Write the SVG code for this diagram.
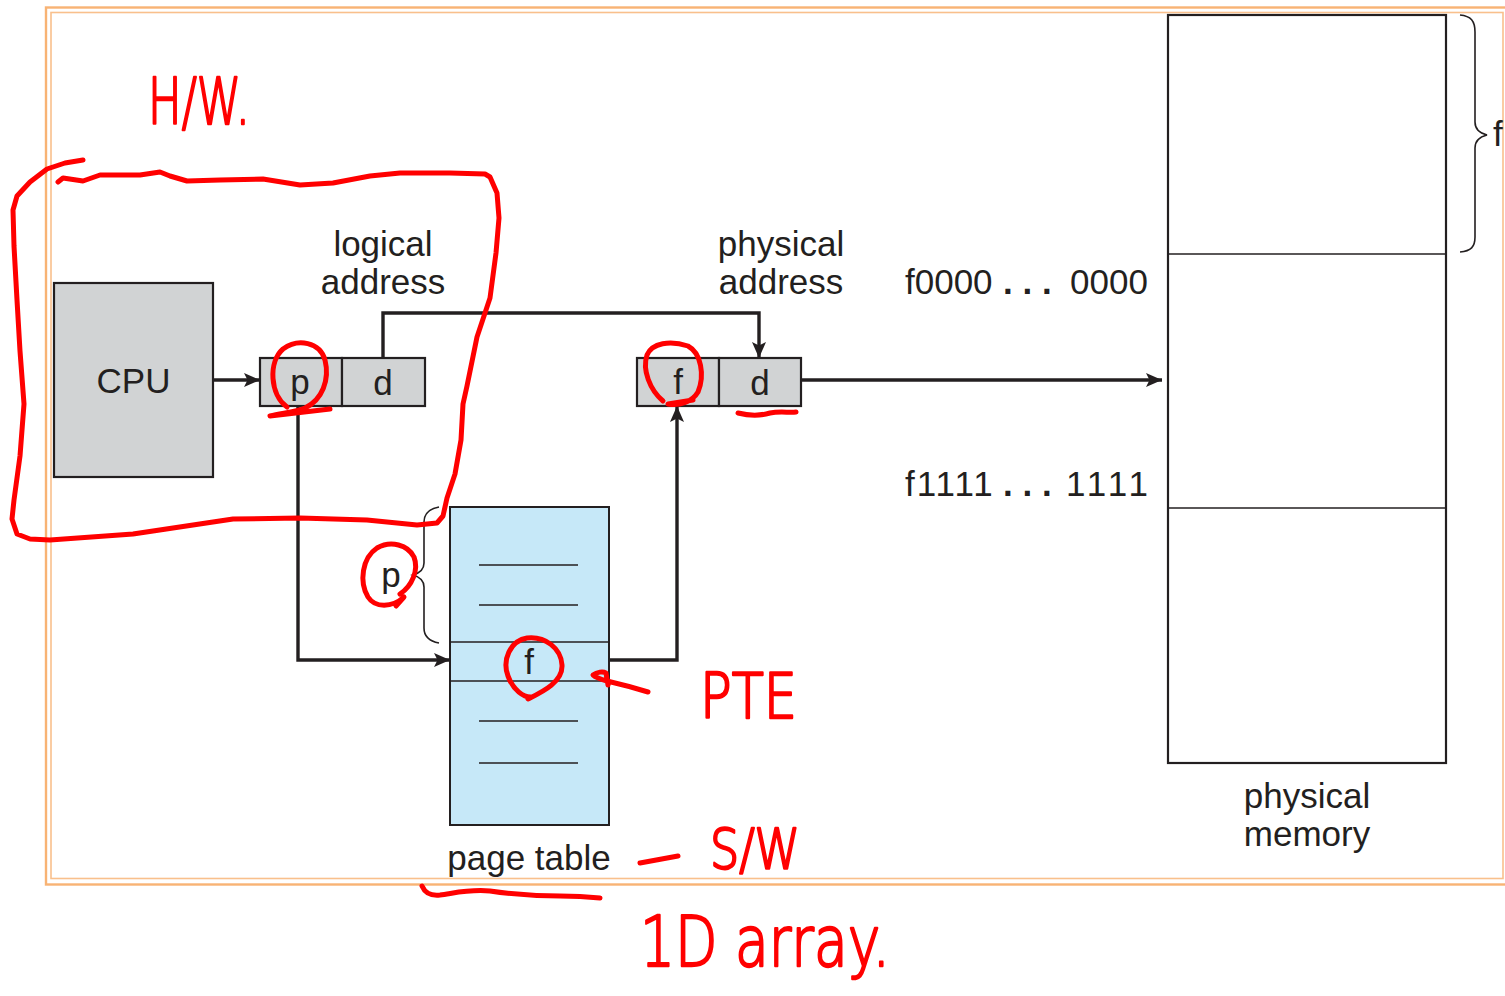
<svg xmlns="http://www.w3.org/2000/svg" width="1505" height="996" viewBox="0 0 1505 996">
<style>
text{font-family:"Liberation Sans",Arial,sans-serif;fill:#231F20;font-size:35px}
.c{text-anchor:middle}
.box{fill:#D1D3D4;stroke:#231F20;stroke-width:2.2}
.pt{fill:#C6E8F8;stroke:#231F20;stroke-width:2}
.thin{stroke:#231F20;stroke-width:1.6;fill:none}
.conn{stroke:#231F20;stroke-width:3.4;fill:none}
.red{stroke:#FF0000;stroke-width:5;fill:none;stroke-linecap:round;stroke-linejoin:round}
.hw{fill:#FF0000;stroke:#FF0000;stroke-width:2.4;stroke-linejoin:round;font-family:"DejaVu Sans","Liberation Sans",sans-serif;font-weight:200}
</style>
<defs>
<marker id="ah" viewBox="0 0 16 14" refX="16" refY="7" markerWidth="16" markerHeight="14" markerUnits="userSpaceOnUse" orient="auto">
<path d="M0,0 L16,7 L0,14 L3.5,7 Z" fill="#231F20"/>
</marker>
</defs>
<rect width="1505" height="996" fill="#FFFFFF"/>
<g id="frame">
<rect x="46" y="7.5" width="1475" height="877" fill="none" stroke="#F8B374" stroke-width="2.4"/>
<rect x="51" y="12.5" width="1452" height="866" fill="none" stroke="#F9C08C" stroke-width="1.6"/>
</g>
<g id="cpu">
<rect class="box" x="54" y="283" width="159" height="194"/>
<text class="c" x="133.5" y="393">CPU</text>
</g>
<g id="logical-address">
<rect class="box" x="260" y="358" width="82" height="48"/>
<rect class="box" x="342" y="358" width="83" height="48"/>
<text class="c" x="300" y="394">p</text>
<text class="c" x="383" y="395">d</text>
<text class="c" x="383" y="256">logical</text>
<text class="c" x="383" y="294">address</text>
</g>
<g id="physical-address">
<rect class="box" x="637" y="358" width="82" height="48"/>
<rect class="box" x="719" y="358" width="82" height="48"/>
<text class="c" x="678" y="394">f</text>
<text class="c" x="760" y="395">d</text>
<text class="c" x="781" y="256">physical</text>
<text class="c" x="781" y="294">address</text>
</g>
<g id="page-table">
<rect class="pt" x="450" y="507" width="159" height="318"/>
<line class="thin" x1="450" y1="642" x2="609" y2="642"/>
<line class="thin" x1="450" y1="681" x2="609" y2="681"/>
<line class="thin" x1="479" y1="565" x2="578" y2="565"/>
<line class="thin" x1="479" y1="605" x2="578" y2="605"/>
<line class="thin" x1="479" y1="721" x2="578" y2="721"/>
<line class="thin" x1="479" y1="763" x2="578" y2="763"/>
<text class="c" x="529" y="674">f</text>
<path class="thin" d="M439,507 C428,509 424,514 424,522 L424,563 C424,569 420,573 413,575 C420,577 424,581 424,587 L424,628 C424,636 428,641 439,643"/>
<text class="c" x="391" y="587">p</text>
<text class="c" x="529" y="870">page table</text>
</g>
<g id="physical-memory">
<rect x="1168" y="15" width="278" height="748" fill="#FFFFFF" stroke="#231F20" stroke-width="2.2"/>
<line class="thin" x1="1168" y1="254" x2="1446" y2="254" stroke-width="2"/>
<line class="thin" x1="1168" y1="508" x2="1446" y2="508" stroke-width="2"/>
<path class="thin" d="M1460,15 C1471,16 1475,21 1475,32 L1475,122 C1475,129 1479,133 1487,135 C1479,137 1475,141 1475,148 L1475,237 C1475,247 1471,251 1460,252"/>
<text x="1493" y="146">f</text>
<text class="c" x="1307" y="808">physical</text>
<text class="c" x="1307" y="846">memory</text>
<text y="294"><tspan x="905">f0000</tspan><tspan x="1003" font-weight="bold">. . .</tspan><tspan x="1070">0000</tspan></text>
<text y="496"><tspan x="905" letter-spacing="2">f1111</tspan><tspan x="1003" font-weight="bold">. . .</tspan><tspan x="1066" letter-spacing="4">1111</tspan></text>
</g>
<g id="connectors">
<path class="conn" d="M213,380 L260,380" marker-end="url(#ah)"/>
<path class="conn" d="M383,358 L383,313 L759,313 L759,358" marker-end="url(#ah)"/>
<path class="conn" d="M298,406 L298,660 L450,660" marker-end="url(#ah)"/>
<path class="conn" d="M609,660 L677,660 L677,406" marker-end="url(#ah)"/>
<path class="conn" d="M801,380 L1162,380" marker-end="url(#ah)"/>
</g>
<g id="annotations">
<path class="red" d="M83,160 L65,163 L47,169 L30,182 L17,196 L13,210 L14,246 L17,300 L20,351 L24,404 L20,456 L14,500 L12,519 L17,534 L30,539 L50,540 L133,534 L233,519 L300,518 L367,520 L417,525 L437,523 L443,516 L447,498 L455,474 L461,440 L463,404 L467,386 L477,337 L490,298 L496,253 L499,218 L497,193 L490,177 L485,174 L450,173 L400,173 L370,176 L333,183 L300,185 L263,179 L220,180 L187,181 L170,176 L160,172 L140,175 L100,175 L83,181 L63,178 L58,182"/>
<path class="red" stroke-width="8" d="M287,407 C270,395 268,362 283,349 C298,338 320,342 325,360 C330,380 322,400 305,408 C295,412 282,413 270,416 L330,409"/>
<path class="red" d="M400,594 C412,586 419,570 414,557 C408,545 391,540 377,548 C362,558 359,582 368,597 C375,608 392,608 404,597 L396,606"/>
<path class="red" d="M528,699 C542,692 563,682 562,665 C561,648 545,636 527,638 C510,641 502,660 508,676 C513,690 524,698 532,697"/>
<path class="red" d="M663,401 C650,390 642,370 647,355 C652,343 670,340 688,346 C701,353 705,375 698,392 C692,402 680,406 668,404 L693,400"/>
<path class="red" d="M738,413 C750,416 760,416 770,413 C780,411 790,413 796,412"/>
<path class="red" d="M648,692 C635,688 620,684 607,681 C600,679 594,676 593,675 C597,672 603,671 606,673 L608,685"/>
<path class="red" d="M422,886 C425,893 430,896 440,895 C455,893 470,889 490,891 C510,894 530,896 560,896 C575,896 590,897 600,898"/>
<path class="red" d="M640,863 L678,856"/>
<text class="hw" x="148" y="124" style="font-size:64px" textLength="102" lengthAdjust="spacingAndGlyphs">H/W.</text>
<text class="hw" x="700" y="718" style="font-size:63px" textLength="97" lengthAdjust="spacingAndGlyphs">PTE</text>
<text class="hw" x="710" y="868" style="font-size:55px" textLength="90" lengthAdjust="spacingAndGlyphs">S/W</text>
<text class="hw" x="640" y="966" style="font-size:70px" textLength="250" lengthAdjust="spacingAndGlyphs">1D array.</text>
</g>
</svg>
